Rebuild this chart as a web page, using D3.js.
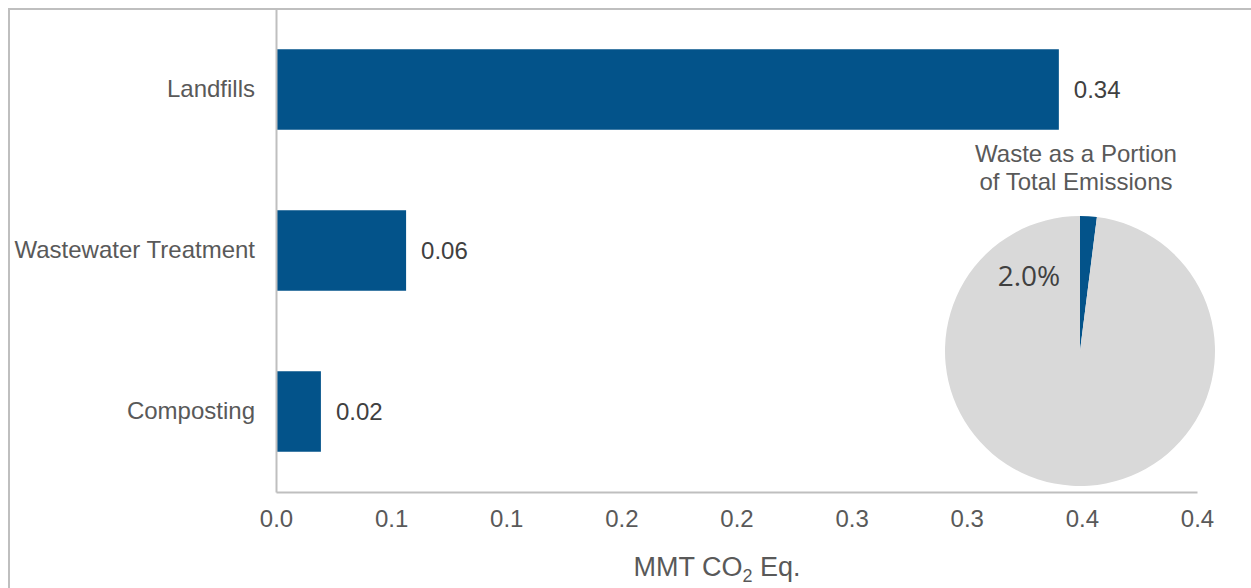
<!DOCTYPE html>
<html><head><meta charset="utf-8">
<script src="https://cdn.jsdelivr.net/npm/d3@7"></script>
<style>
html,body{margin:0;padding:0;background:#fff;}
svg{display:block;font-family:"Liberation Sans",Arial,sans-serif;}
</style></head>
<body>
<svg id="c" width="1251" height="588"></svg>
<script>
const categories = ["Landfills", "Wastewater Treatment", "Composting"];
const values = [0.34, 0.0565, 0.0195];
const valueLabels = ["0.34", "0.06", "0.02"];
const tickValues = [0, 0.05, 0.1, 0.15, 0.2, 0.25, 0.3, 0.35, 0.4];
const tickLabels = ["0.0", "0.1", "0.1", "0.2", "0.2", "0.3", "0.3", "0.4", "0.4"];
const pieNames = ["Waste", "Other"];
const pieValues = [2.0, 98.0];
const pieLabel = "2.0%";
const pieTitle = ["Waste as a Portion", "of Total Emissions"];

(function () {
const svg = d3.select("#c");
const barColor = "#03538a";
const gridColor = "#bfbfbf";
const textColor = "#595959";
const fs = 24;

// outer frame
svg.append("rect").attr("x", 9).attr("y", 9).attr("width", 1300).attr("height", 700)
  .attr("fill", "none").attr("stroke", gridColor).attr("stroke-width", 2);

const pLeft = 276, pRight = 1197, pTop = 9, pBottom = 492;
const x = d3.scaleLinear().domain([0, 0.4]).range([pLeft, pRight]);
const y = d3.scaleBand().domain(categories).range([pTop, pBottom]).paddingInner(0.5).paddingOuter(0.25);

// bars
svg.append("g").selectAll("rect").data(categories).join("rect")
  .attr("x", x(0)).attr("y", d => y(d))
  .attr("width", (d, i) => x(values[i]) - x(0))
  .attr("height", y.bandwidth())
  .attr("fill", barColor);

// value labels
svg.append("g").selectAll("text").data(categories).join("text")
  .attr("x", (d, i) => x(values[i]) + 15)
  .attr("y", d => y(d) + y.bandwidth() / 2)
  .attr("dy", "0.35em")
  .attr("font-size", fs).attr("fill", "#404040")
  .text((d, i) => valueLabels[i]);

// y axis
const yAxis = d3.axisLeft(y).tickSize(0).tickPadding(21);
const gy = svg.append("g").attr("transform", `translate(${pLeft},0)`).call(yAxis);
gy.select(".domain").attr("stroke", gridColor).attr("stroke-width", 2);
gy.selectAll("text").attr("font-size", fs).attr("fill", textColor).attr("font-family", "Liberation Sans, Arial, sans-serif");

// x axis
const xAxis = d3.axisBottom(x).tickValues(tickValues).tickSize(0).tickPadding(18)
  .tickFormat((d, i) => tickLabels[i]);
const gx = svg.append("g").attr("transform", `translate(0,${pBottom})`).call(xAxis);
gx.select(".domain").attr("stroke", gridColor).attr("stroke-width", 2);
gx.selectAll("text").attr("font-size", fs).attr("fill", textColor).attr("font-family", "Liberation Sans, Arial, sans-serif");

// x axis title
const t = svg.append("text").attr("x", 717).attr("y", 576).attr("text-anchor", "middle")
  .attr("font-size", 27).attr("fill", textColor);
t.append("tspan").text("MMT CO");
t.append("tspan").attr("font-size", 18).attr("dy", 6).text("2");
t.append("tspan").attr("dy", -6).text(" Eq.");

// pie
const cx = 1080, cy = 351, r = 135;
const pie = d3.pie().sort(null).value(d => d)(pieValues);
const arc = d3.arc().innerRadius(0).outerRadius(r);
const pieColors = [barColor, "#d9d9d9"];
const pg = svg.append("g").attr("transform", `translate(${cx},${cy})`);
pg.selectAll("path").data(pie).join("path")
  .attr("d", arc).attr("fill", (d, i) => pieColors[i]);

svg.append("text").attr("x", 1029).attr("y", 286).attr("text-anchor", "middle")
  .attr("font-family", "Open Sans, sans-serif").attr("font-size", 28).attr("fill", "#404040")
  .text(pieLabel);

svg.append("g").selectAll("text").data(pieTitle).join("text")
  .attr("x", 1076).attr("y", (d, i) => 162 + i * 28)
  .attr("text-anchor", "middle").attr("font-size", fs).attr("fill", textColor)
  .text(d => d);
})();
</script>
</body></html>
